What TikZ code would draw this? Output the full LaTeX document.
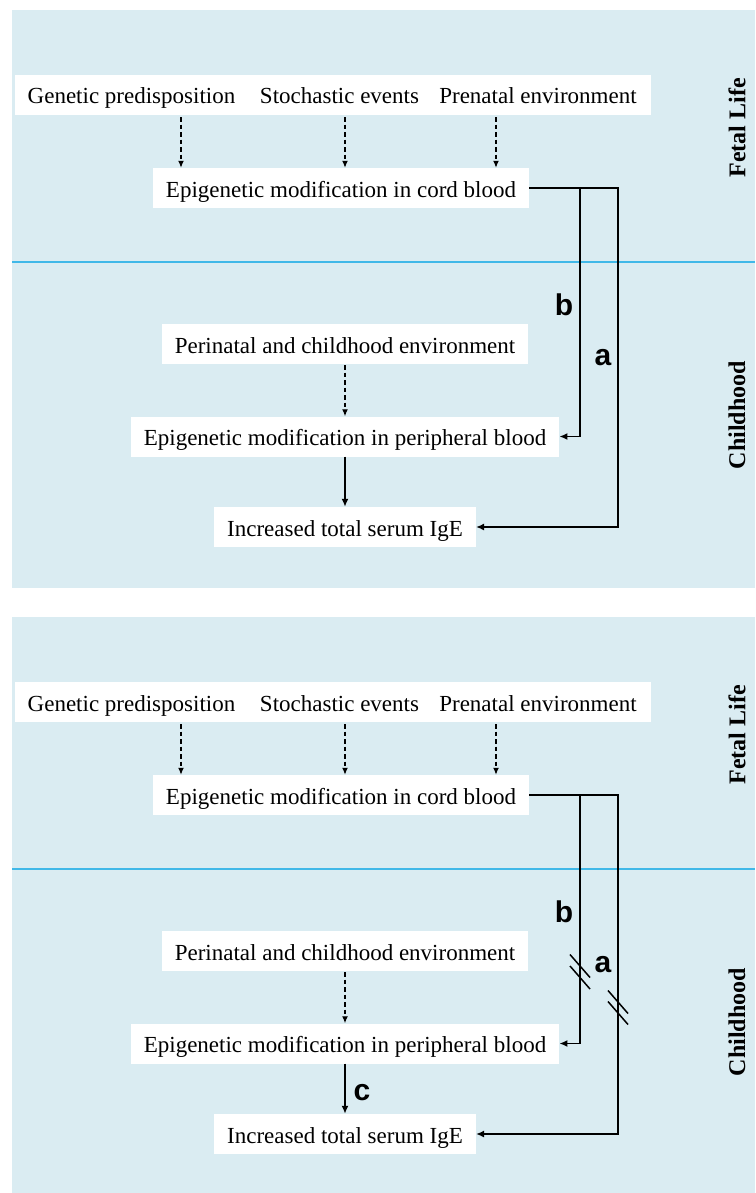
\documentclass[tikz,border=0pt]{standalone}
\usepackage{fontspec}
\setmainfont{Liberation Serif}
\newfontfamily\tagfont{Liberation Sans}
\usetikzlibrary{arrows.meta}
\definecolor{panelblue}{RGB}{218,236,242}
\definecolor{lineblue}{RGB}{64,184,232}

\begin{document}
\begin{tikzpicture}[x=1pt, y=-1pt]
	\useasboundingbox (0,0) rectangle (755,1193);
	
	\tikzstyle{box}=[fill=white, font=\fontsize{23}{27}\selectfont, inner xsep=13pt, inner ysep=0pt, text height=19pt, text depth=1pt, minimum height=40pt]
	\tikzstyle{tag}=[font=\tagfont\bfseries\fontsize{30}{34}\selectfont, inner sep=0pt]
	\tikzstyle{phase}=[rotate=90, font=\bfseries\fontsize{24}{28}\selectfont, inner sep=0pt]
	\tikzstyle{dasharrow}=[-{Latex[length=7pt,width=6pt]}, line width=1.3pt, dash pattern=on 4.5pt off 3pt]
	\tikzstyle{link}=[line width=1.8pt, -{Latex[length=8pt,width=7pt]}]
	\tikzstyle{slash}=[line width=1.5pt]
	
	% TOP PANEL
	\fill[panelblue] (12,10) rectangle (755,588);
	\draw[lineblue, line width=1.2pt] (12,262) -- (755,262);
	\path (737,128) node[phase] (fetalA) {Fetal Life};
	\path (737,415) node[phase] (childA) {Childhood};
	
	% fetal life
	\path (131.5,95) node[box] (genA) {Genetic predisposition};
	\path (339.5,95) node[box] (stochA) {Stochastic events};
	\path (538,95) node[box, inner xsep=14pt] (prenA) {Prenatal environment};
	\path (341,188) node[box] (cordA) {Epigenetic modification in cord blood};
	\draw[dasharrow, shorten <=2pt] ([xshift=49.5]genA.south) -- ([xshift=49.5]genA.south |- cordA.north);
	\draw[dasharrow, shorten <=2pt] ([xshift=5.5]stochA.south) -- ([xshift=5.5]stochA.south |- cordA.north);
	\draw[dasharrow, shorten <=2pt] ([xshift=-42]prenA.south) -- ([xshift=-42]prenA.south |- cordA.north);
	
	% childhood
	\path (345,344) node[box] (periA) {Perinatal and childhood environment};
	\path (345,436.5) node[box] (peribA) {Epigenetic modification in peripheral blood};
	\path (345,527) node[box] (igeA) {Increased total serum IgE};
	\draw[dasharrow, shorten <=1pt] (periA.south) -- (periA.south |- peribA.north);
	\draw[link] (peribA.south) -- (peribA.south |- igeA.north);
	
	% paths a and b
	\coordinate (bA) at (580,188);
	\coordinate (aA) at (618,188);
	\draw[link] (cordA.east) -- (aA) |- (igeA.east);
	\draw[link] (bA) |- (peribA.east);
	\path (564,305) node[tag] (tagbA) {b};
	\path (603,358) node[tag] (tagaA) {a};
	
	% BOTTOM PANEL
	\fill[panelblue] (12,617) rectangle (755,1193);
	\draw[lineblue, line width=1.2pt] (12,869) -- (755,869);
	\path (737,735) node[phase] (fetalB) {Fetal Life};
	\path (737,1022) node[phase] (childB) {Childhood};
	
	% fetal life
	\path (131.5,702) node[box] (genB) {Genetic predisposition};
	\path (339.5,702) node[box] (stochB) {Stochastic events};
	\path (538,702) node[box, inner xsep=14pt] (prenB) {Prenatal environment};
	\path (341,795) node[box] (cordB) {Epigenetic modification in cord blood};
	\draw[dasharrow, shorten <=2pt] ([xshift=49.5]genB.south) -- ([xshift=49.5]genB.south |- cordB.north);
	\draw[dasharrow, shorten <=2pt] ([xshift=5.5]stochB.south) -- ([xshift=5.5]stochB.south |- cordB.north);
	\draw[dasharrow, shorten <=2pt] ([xshift=-42]prenB.south) -- ([xshift=-42]prenB.south |- cordB.north);
	
	% childhood
	\path (345,951) node[box] (periB) {Perinatal and childhood environment};
	\path (345,1043.5) node[box] (peribB) {Epigenetic modification in peripheral blood};
	\path (345,1134) node[box] (igeB) {Increased total serum IgE};
	\draw[dasharrow, shorten <=1pt] (periB.south) -- (periB.south |- peribB.north);
	\draw[link] (peribB.south) -- (peribB.south |- igeB.north);
	\path (362,1093) node[tag] (tagcB) {c};
	
	% paths a and b, cut
	\coordinate (bB) at (580,795);
	\coordinate (aB) at (618,795);
	\draw[link] (cordB.east) -- (aB) |- (igeB.east);
	\draw[link] (bB) |- (peribB.east);
	\path (564,912) node[tag] (tagbB) {b};
	\path (603,965) node[tag] (tagaB) {a};
	\coordinate (sb1) at (580,966);
	\coordinate (sb2) at (580,977.5);
	\coordinate (sa1) at (618,1002);
	\coordinate (sa2) at (618,1013);
	\draw[slash] ([shift={(-10,-11.5)}]sb1) -- ([shift={(10,11.5)}]sb1);
	\draw[slash] ([shift={(-10,-11.5)}]sb2) -- ([shift={(10,11.5)}]sb2);
	\draw[slash] ([shift={(-10,-11.5)}]sa1) -- ([shift={(10,11.5)}]sa1);
	\draw[slash] ([shift={(-10,-11.5)}]sa2) -- ([shift={(10,11.5)}]sa2);
	
\end{tikzpicture}
\end{document}
